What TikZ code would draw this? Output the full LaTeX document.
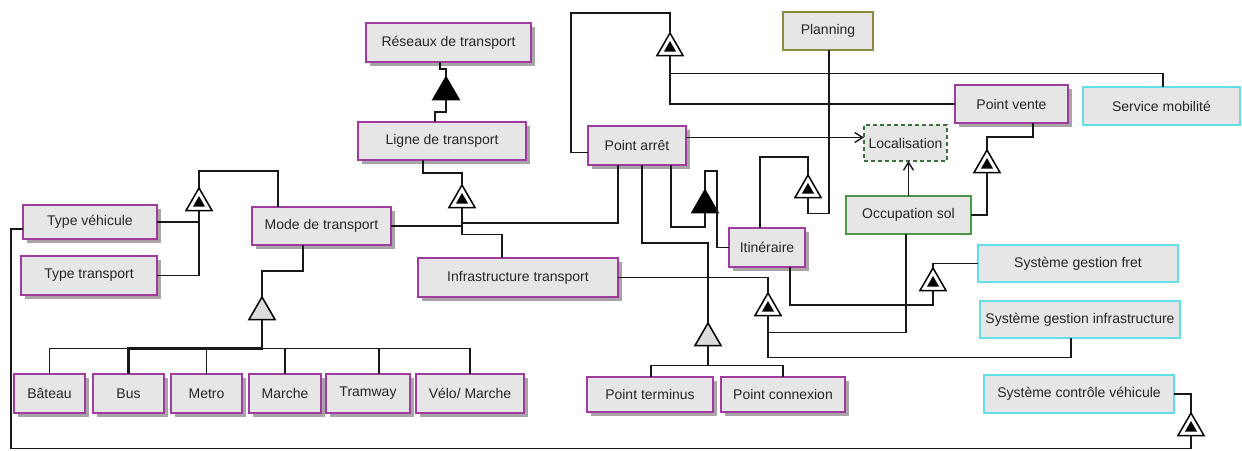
\documentclass[tikz,border=0pt]{standalone}
\usepackage{fontspec}
\setmainfont{Liberation Sans}
\usetikzlibrary{arrows.meta,positioning,shapes.geometric,shadows}
\definecolor{umlpurple}{HTML}{A03CA0}
\definecolor{umlcyan}{HTML}{62DEE6}
\definecolor{umlgreen}{HTML}{4A964A}
\definecolor{umlolive}{HTML}{8C8A3E}
\definecolor{umldash}{HTML}{3E6E3E}
\definecolor{boxgray}{HTML}{E6E6E6}
\definecolor{shadowgray}{HTML}{A8A4A8}
\definecolor{trigray}{HTML}{DCDCDC}

\begin{document}
\begin{tikzpicture}[
  x=1pt, y=-1pt,
  umlbox/.style={
    draw,
    fill=boxgray,
    line width=1.6pt,
    inner sep=2pt,
    outer sep=0pt,
    anchor=north west,
    font=\fontsize{14}{16}\selectfont,
    text=black!85
  },
  purplebox/.style={
    umlbox,
    draw=umlpurple,
    drop shadow={shadow xshift=4pt, shadow yshift=-4pt, fill=shadowgray, opacity=1}
  },
  cyanbox/.style={umlbox, draw=umlcyan},
  greenbox/.style={umlbox, draw=umlgreen, line width=1.5pt},
  olivebox/.style={umlbox, draw=umlolive, line width=1.5pt},
  dashbox/.style={umlbox, draw=umldash, dash pattern=on 4pt off 3pt, line width=1.5pt},
  gentri/.style={
    regular polygon,
    regular polygon sides=3,
    minimum size=30pt,
    inner sep=0pt,
    outer sep=0pt,
    draw=black,
    line width=1.5pt,
    anchor=north
  },
  hollowtri/.style={
    gentri,
    fill=white,
    path picture={
      \fill[black] ([yshift=-8pt]path picture bounding box.north)
        -- ([shift={(-6pt,4pt)}]path picture bounding box.south)
        -- ([shift={(6pt,4pt)}]path picture bounding box.south) -- cycle;
    }
  },
  blacktri/.style={gentri, fill=black},
  graytri/.style={gentri, fill=trigray},
  link/.style={draw=black!90, line width=1.4pt},
  arrowlink/.style={link, -{Straight Barb[length=8pt,width=10pt]}}
]

  \path[use as bounding box, fill=white] (0,0) rectangle (1242,450);

  % --- classes, left part ---
  \node[purplebox, minimum width=165pt, minimum height=39pt] (res) at (366,23) {Réseaux de transport};
  \node[purplebox, minimum width=168pt, minimum height=38pt] (ligne) at (358,122) {Ligne de transport};
  \node[purplebox, minimum width=134pt, minimum height=34pt] (typeveh) at (23,205) {Type véhicule};
  \node[purplebox, minimum width=136pt, minimum height=39pt] (typetr) at (21,256) {Type transport};
  \node[purplebox, minimum width=139pt, minimum height=38pt] (mode) at (252,207) {Mode de transport};
  \node[purplebox, minimum width=200pt, minimum height=39pt] (infra) at (418,258) {Infrastructure transport};

  % --- modes row ---
  \node[purplebox, minimum width=71pt, minimum height=39pt] (bateau) at (14,374) {Bâteau};
  \node[purplebox, minimum width=71pt, minimum height=39pt, right=8pt of bateau.north east, anchor=north west] (bus) {Bus};
  \node[purplebox, minimum width=71pt, minimum height=39pt, right=7pt of bus.north east, anchor=north west] (metro) {Metro};
  \node[purplebox, minimum width=72pt, minimum height=39pt, right=7pt of metro.north east, anchor=north west] (marche) {Marche};
  \node[purplebox, minimum width=84pt, minimum height=39pt, right=5pt of marche.north east, anchor=north west] (tramway) {Tramway};
  \node[purplebox, minimum width=108pt, minimum height=39pt, right=6pt of tramway.north east, anchor=north west] (velo) {Vélo/ Marche};

  % --- classes, middle part ---
  \node[purplebox, minimum width=98pt, minimum height=39pt] (arret) at (588,126) {Point arrêt};
  \node[purplebox, minimum width=76pt, minimum height=39pt] (itin) at (729,228) {Itinéraire};
  \node[olivebox, minimum width=90pt, minimum height=38pt] (planning) at (783,12) {Planning};
  \node[dashbox, minimum width=83pt, minimum height=36pt] (loc) at (864,125) {Localisation};
  \node[greenbox, minimum width=125pt, minimum height=38pt] (occ) at (846,196) {Occupation sol};
  \node[purplebox, minimum width=113pt, minimum height=38pt] (vente) at (955,85) {Point vente};
  \node[purplebox, minimum width=126pt, minimum height=35pt] (terminus) at (587,377) {Point terminus};
  \node[purplebox, minimum width=124pt, minimum height=35pt, right=8pt of terminus.north east, anchor=north west] (connexion) {Point connexion};

  % --- systems, right part ---
  \node[cyanbox, minimum width=157pt, minimum height=38pt] (service) at (1083,87) {Service mobilité};
  \node[cyanbox, minimum width=200pt, minimum height=37pt] (fret) at (978,245) {Système gestion fret};
  \node[cyanbox, minimum width=200pt, minimum height=37pt] (sgi) at (980,301) {Système gestion infrastructure};
  \node[cyanbox, minimum width=190pt, minimum height=38pt] (scv) at (984,375) {Système contrôle véhicule};

  % --- triangles ---
  \node[blacktri] (t1) at (446,77) {};
  \node[hollowtri] (t2) at (199,188) {};
  \node[hollowtri] (t3) at (462,185) {};
  \node[graytri] (t4) at (262,297) {};
  \node[hollowtri] (t5) at (670,33) {};
  \node[blacktri] (t6) at (705,190) {};
  \node[hollowtri] (t7) at (808,175) {};
  \node[hollowtri] (t8) at (987,150) {};
  \node[graytri] (t9) at (708,323) {};
  \node[hollowtri] (t10) at (768,293) {};
  \node[hollowtri] (t11) at (933,268) {};
  \node[hollowtri] (t12) at (1191,413) {};

  % Reseaux / Ligne
  \draw[link] ([xshift=77pt]ligne.north west) -- ++(0,-10) -| (t1.south);
  \draw[link] (t1.north) -- ++(0,-8) -| ([xshift=74pt]res.south west);

  % Type vehicule, Type transport
  \draw[link] (t2.north) -- ++(0,-17) -| ([xshift=26pt]mode.north west);
  \draw[link] (typeveh.east) -| (t2.south);
  \draw[link] (typetr.east) -| (t2.south);

  % Ligne de transport
  \draw[link] (t3.north) -- ++(0,-12) -| ([xshift=65pt]ligne.south west);
  \draw[link] (mode.east) -| (t3.south);
  \draw[link] ([xshift=30pt]arret.south west) -- ++(0,58) -| (t3.south);
  \draw[link] (t3.south) -- ++(0,27) -| ([xshift=84pt]infra.north west);

  % Modes
  \draw[link] ([xshift=51pt]mode.south west) -- ++(0,26) -| (t4.north);
  \coordinate (j4) at ([yshift=-29pt]t4.south);
  \draw[link, line width=2.2pt] (t4.south) -- (j4) -| (bus.north);
  \foreach \m in {bateau,metro,marche,velo}
    \draw[link] (j4) -| (\m.north);
  \draw[link] (j4) -| ([xshift=53pt]tramway.north west);

  % Point arret
  \draw[link] ([yshift=-7pt]arret.west) -- ++(-17,0) |- ([yshift=20pt]t5.north) -- (t5.north);
  \draw[link] (t5.south) -- ++(0,18) -| ([xshift=80pt]service.north west);
  \draw[link] (t5.south) |- (vente.west);
  \coordinate (a1) at ([yshift=8pt]arret.east);
  \draw[arrowlink] (a1) -- (a1 -| loc.west);
  \draw[arrowlink] (occ.north) -- (occ.north |- loc.south);
  \draw[link] (occ.east) -| (t8.south);
  \draw[link] (t8.north) -- ++(0,-13) -| ([xshift=78pt]vente.south west);

  % Itineraire
  \draw[link] ([xshift=83pt]arret.south west) -- ++(0,62) -| (t6.south);
  \draw[link] (t6.north) -- ++(0,-19) -- ++(12,0) |- (itin.west);
  \draw[link] ([xshift=31pt]itin.north west) |- ([yshift=18pt]t7.north) -- (t7.north);
  \draw[link] (t7.south) -- ++(0,16) -| ([xshift=46pt]planning.south west);

  % Point terminus, Point connexion
  \draw[link] ([xshift=54pt]arret.south west) -- ++(0,78) -| (t9.north);
  \coordinate (j9) at ([yshift=-20pt]t9.south);
  \draw[link] (t9.south) -- (j9);
  \draw[link] (j9) -| ([xshift=64pt]terminus.north west);
  \draw[link] (j9) -| ([xshift=62pt]connexion.north west);

  % Infrastructure
  \draw[link] (infra.east) -| (t10.north);
  \draw[link] (t10.south) -- ++(0,17) -| ([xshift=60pt]occ.south west);
  \draw[link] (t10.south) -- ++(0,42) -| ([xshift=91pt]sgi.south west);

  % Systemes
  \draw[link] ([xshift=61pt]itin.south west) -- ++(0,38) -| (t11.south);
  \draw[link] (t11.north) |- (fret.west);
  \draw[link] (scv.east) -| (t12.north);
  \draw[link] ([yshift=-7pt]typeveh.west) -- ++(-12,0) |- ([yshift=-13pt]t12.south) -- (t12.south);

\end{tikzpicture}
\end{document}
